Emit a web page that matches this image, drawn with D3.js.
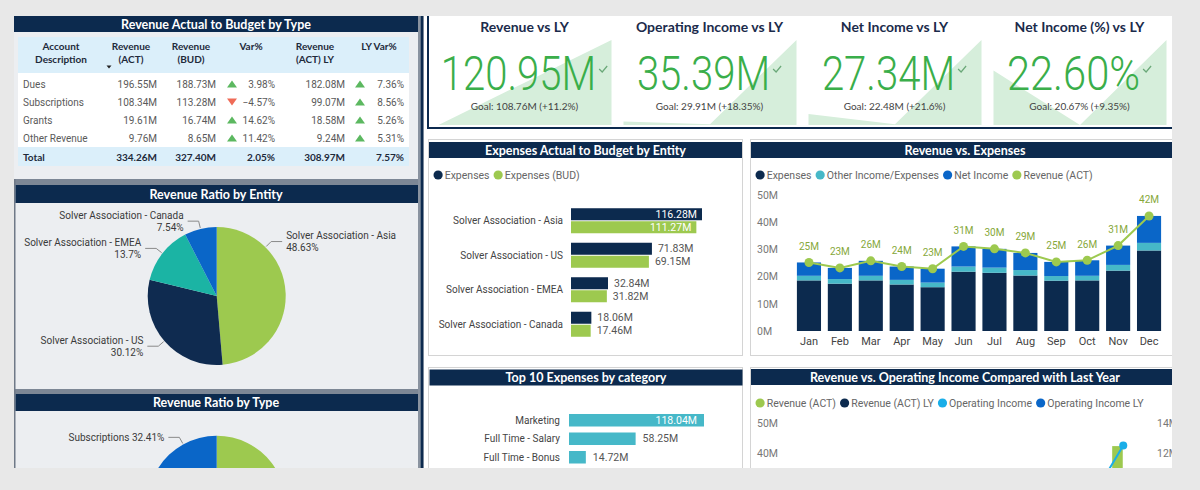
<!DOCTYPE html>
<html><head><meta charset="utf-8">
<script src="https://cdn.jsdelivr.net/npm/d3@7/dist/d3.min.js"></script>
<style>
html,body{margin:0;padding:0;background:#e8e8e8;}
svg{display:block;}
</style>
</head><body>
<svg id="c" width="1200" height="490"></svg>
<script>
// ================= DATA =================
const tableAccounts = ["Dues", "Subscriptions", "Grants", "Other Revenue"];
const tableRevAct = [196.55, 108.34, 19.61, 9.76];
const tableRevBud = [188.73, 113.28, 16.74, 8.65];
const tableVarPct = [3.98, -4.57, 14.62, 11.42];
const tableRevLY = [182.08, 99.07, 18.58, 9.24];
const tableLYVarPct = [7.36, 8.56, 5.26, 5.31];
const tableTotals = [334.26, 327.40, 2.05, 308.97, 7.57];

const entities = ["Solver Association - Asia", "Solver Association - US", "Solver Association - EMEA", "Solver Association - Canada"];
const entityShare = [48.63, 30.12, 13.7, 7.54];

const revTypes = ["Dues", "Grants", "Other Revenue", "Subscriptions"];
const revTypeShare = [58.80, 5.87, 2.92, 32.41];

const kpiTitles = ["Revenue vs LY", "Operating Income vs LY", "Net Income vs LY", "Net Income (%) vs LY"];
const kpiValues = [120.95, 35.39, 27.34, 22.60];
const kpiUnits = ["M", "M", "M", "%"];
const kpiGoals = [108.76, 29.91, 22.48, 20.67];
const kpiGoalDelta = [11.2, 18.35, 21.6, 9.35];
const trendRevenue = [0, 50, 100];
const trendOpIncome = [4, 1, 100];
const trendNetIncome = [13, 1, 100];
const trendNetIncomePct = [64, 0, 100];

const expActual = [116.28, 71.83, 32.84, 18.06];
const expBudget = [111.27, 69.15, 31.82, 17.46];

const months = ["Jan", "Feb", "Mar", "Apr", "May", "Jun", "Jul", "Aug", "Sep", "Oct", "Nov", "Dec"];
const monthExpenses = [18.6, 17.4, 18.6, 17.1, 16.1, 21.8, 21.4, 20.4, 18.5, 18.6, 22.2, 29.6];
const monthOther = [1.7, 1.7, 1.7, 1.7, 1.7, 1.9, 1.9, 2.0, 1.7, 1.7, 2.1, 2.8];
const monthNet = [4.9, 4.1, 5.5, 4.9, 5.1, 7.4, 6.9, 6.3, 5.2, 5.7, 7.1, 9.9];
const monthRevenue = [25.2, 23.2, 25.8, 23.7, 22.9, 31.1, 30.2, 28.7, 25.4, 26.0, 31.4, 42.3];
const monthOpIncome = [6.6, 5.8, 7.2, 6.6, 6.8, 9.3, 8.8, 8.3, 6.9, 7.4, 9.2, 12.5];

const topCategories = ["Marketing", "Full Time - Salary", "Full Time - Bonus"];
const topValues = [118.04, 58.25, 14.72];

const revExpTicks = [0, 10, 20, 30, 40, 50];
const revOpLeftTicks = [40, 50];
const revOpRightTicks = [12, 14];

// ================= STYLE =================
const NAVY = "#0c2a4e", GREEN = "#9dc94f", TEAL = "#1bb4a4", BLUE = "#0a66c8",
      LTEAL = "#46b8c8", SKY = "#1aaee8", KGREEN = "#3aae4a";
const FONT = "Roboto, 'Open Sans', sans-serif";
const TFONT = "Lato, 'Open Sans', sans-serif";
const VISIBLE_BOTTOM = 468;
const fM = v => d3.format(".2f")(v) + "M";
const fP = v => d3.format(".2f")(v) + "%";

const svg = d3.select("#c").attr("font-family", FONT);
const clip = svg.append("defs").append("clipPath").attr("id", "page");
clip.append("rect").attr("x", 0).attr("y", 0).attr("width", 1172).attr("height", VISIBLE_BOTTOM);
const root = svg.append("g");
const main = root.append("g").attr("clip-path", "url(#page)");

// page backgrounds
root.insert("rect", ":first-child").attr("width", 1200).attr("height", 490).attr("fill", "#e8e8e8");
main.append("rect").attr("x", 14).attr("y", 16).attr("width", 404).attr("height", 452).attr("fill", "#eceef1");
main.append("rect").attr("x", 424).attr("y", 16).attr("width", 748).attr("height", 452).attr("fill", "#ffffff");
main.append("rect").attr("x", 418).attr("y", 16).attr("width", 2.5).attr("height", 452).attr("fill", "#8a93a0");
main.append("rect").attr("x", 420.5).attr("y", 16).attr("width", 3).attr("height", 452).attr("fill", NAVY);

function titleBar(x, y, w, h, text, cx) {
  main.append("rect").attr("x", x).attr("y", y).attr("width", w).attr("height", h).attr("fill", NAVY);
  main.append("text").attr("x", cx === undefined ? x + w / 2 : cx).attr("y", y + h / 2).attr("dy", "0.36em")
    .attr("text-anchor", "middle").attr("fill", "#fff").attr("font-family", TFONT)
    .attr("font-weight", 700).attr("font-size", 12.5).text(text);
}

// ================= TABLE =================
titleBar(14, 16, 404, 16, "Revenue Actual to Budget by Type", 216);
main.append("rect").attr("x", 18).attr("y", 37).attr("width", 391).attr("height", 36).attr("fill", "#dbeffa");
main.append("rect").attr("x", 18).attr("y", 73).attr("width", 391).attr("height", 74).attr("fill", "#ffffff");
main.append("rect").attr("x", 18).attr("y", 147).attr("width", 391).attr("height", 19).attr("fill", "#dbeffa");

const headers = [
  {lines: ["Account", "Description"], x: 61},
  {lines: ["Revenue", "(ACT)"], x: 131},
  {lines: ["Revenue", "(BUD)"], x: 191},
  {lines: ["Var%"], x: 251},
  {lines: ["Revenue", "(ACT) LY"], x: 315},
  {lines: ["LY Var%"], x: 379}
];
const tg = main.append("g").attr("font-family", TFONT);
headers.forEach(h => {
  h.lines.forEach((l, i) => {
    tg.append("text").attr("x", h.x).attr("y", 46 + i * 13).attr("dy", "0.35em").attr("text-anchor", "middle")
      .attr("font-size", 10).attr("font-weight", 700).attr("fill", "#1e2a3a").text(l);
  });
});
tg.append("path").attr("d", "M106.5,65.5 L111.5,65.5 L109,68.5 Z").attr("fill", "#222");

const rowY = d3.scaleBand().domain(tableAccounts).range([75, 147]);
function tri(g, cx, cy, up) {
  const d = up ? `M${cx - 5},${cy + 3.5}L${cx + 5},${cy + 3.5}L${cx},${cy - 3.5}Z`
               : `M${cx - 5},${cy - 3.5}L${cx + 5},${cy - 3.5}L${cx},${cy + 3.5}Z`;
  g.append("path").attr("d", d).attr("fill", up ? "#5cb860" : "#ef6b57");
}
const cols = {act: 157, bud: 216, varTri: 232, varR: 275, ly: 345, lyTri: 360, lyVarR: 404};
tableAccounts.forEach((a, i) => {
  const y = rowY(a) + rowY.bandwidth() / 2;
  const g = main.append("g").attr("font-size", 10).attr("fill", "#5a5a5a");
  const t = (x, txt, anchor) => g.append("text").attr("x", x).attr("y", y).attr("dy", "0.35em")
    .attr("text-anchor", anchor || "end").text(txt);
  t(23, a, "start");
  t(cols.act, fM(tableRevAct[i]));
  t(cols.bud, fM(tableRevBud[i]));
  tri(g, cols.varTri, y, tableVarPct[i] >= 0);
  t(cols.varR, fP(tableVarPct[i]));
  t(cols.ly, fM(tableRevLY[i]));
  tri(g, cols.lyTri, y, tableLYVarPct[i] >= 0);
  t(cols.lyVarR, fP(tableLYVarPct[i]));
});
{
  const y = 157;
  const g = main.append("g").attr("font-size", 10).attr("font-weight", 700).attr("fill", "#1e2a3a").attr("font-family", TFONT);
  const t = (x, txt, anchor) => g.append("text").attr("x", x).attr("y", y).attr("dy", "0.35em")
    .attr("text-anchor", anchor || "end").text(txt);
  t(23, "Total", "start");
  t(cols.act, fM(tableTotals[0]));
  t(cols.bud, fM(tableTotals[1]));
  t(cols.varR, fP(tableTotals[2]));
  t(cols.ly, fM(tableTotals[3]));
  t(cols.lyVarR, fP(tableTotals[4]));
}

// ================= PIES =================
main.append("rect").attr("x", 14).attr("y", 179).attr("width", 404).attr("height", 6).attr("fill", "#7d8795");
main.append("rect").attr("x", 14).attr("y", 389).attr("width", 404).attr("height", 5).attr("fill", "#7d8795");
main.append("rect").attr("x", 14).attr("y", 179).attr("width", 1.5).attr("height", 290).attr("fill", "#6f7987");
titleBar(15.5, 185, 402.5, 18, "Revenue Ratio by Entity", 216);
titleBar(15.5, 394, 402.5, 17, "Revenue Ratio by Type", 216);

const PIE_R = 69;
function drawPie(cx, cy, names, shares, colors, labelFn, angleOverride) {
  const pie = d3.pie().sort(null).value(d => d.v);
  const arcs = pie(names.map((n, i) => ({n, v: shares[i]})));
  const arc = d3.arc().innerRadius(0).outerRadius(PIE_R);
  const g = main.append("g").attr("transform", `translate(${cx},${cy})`);
  g.selectAll("path").data(arcs).join("path").attr("d", arc).attr("fill", (d, i) => colors[i]);
  arcs.forEach(d => {
    let a = (d.startAngle + d.endAngle) / 2;
    if (angleOverride[d.data.n] !== undefined) a = angleOverride[d.data.n];
    const p0 = [Math.sin(a) * (PIE_R + 1), -Math.cos(a) * (PIE_R + 1)];
    const p1 = [Math.sin(a) * (PIE_R + 8), -Math.cos(a) * (PIE_R + 8)];
    const right = Math.sin(a) >= 0;
    const p2 = [p1[0] + (right ? 11 : -11), p1[1]];
    const lines = labelFn(d.data);
    // skip labels that fall below the visible page
    if (cy + p2[1] + lines.length * 6 > VISIBLE_BOTTOM - 2) return;
    g.append("path").attr("d", `M${p0}L${p1}L${p2}`).attr("fill", "none").attr("stroke", "#8a8a8a").attr("stroke-width", 1);
    const tx = p2[0] + (right ? 4 : -4);
    const t = g.append("text").attr("x", tx).attr("y", p2[1]).attr("text-anchor", right ? "start" : "end")
      .attr("font-size", 10).attr("fill", "#3a3a3a");
    lines.forEach((l, i) => {
      t.append("tspan").attr("x", tx).attr("y", p2[1] + (i - (lines.length - 1) / 2) * 11.8).attr("dy", "0.35em").text(l);
    });
  });
}
drawPie(216.7, 296, entities, entityShare, [GREEN, "#0f2b50", TEAL, BLUE],
  d => [d.n, d.v + "%"], {"Solver Association - Asia": Math.PI / 4});
drawPie(216.7, 504.7, revTypes, revTypeShare, [GREEN, TEAL, "#0f2b50", BLUE],
  d => [d.n + " " + d.v + "%"], {"Subscriptions": -29 * Math.PI / 180});

// ================= KPI CARDS =================
main.append("rect").attr("x", 427).attr("y", 16).attr("width", 2).attr("height", 113).attr("fill", NAVY);
main.append("rect").attr("x", 427).attr("y", 127).attr("width", 745).attr("height", 2).attr("fill", NAVY);
const kx = d3.scaleBand().domain(kpiTitles).range([432, 1172]);
const kTrends = [trendRevenue, trendOpIncome, trendNetIncome, trendNetIncomePct];
const ky = d3.scaleLinear().domain([0, 100]).range([125, 40]);
kpiTitles.forEach((title, i) => {
  const cx = kx(title) + kx.bandwidth() / 2;
  const tx = d3.scaleLinear().domain([0, kTrends[i].length - 1]).range([cx - 86, cx + 87]);
  const area = d3.area().x((d, j) => tx(j)).y0(ky(0)).y1(d => ky(d));
  main.append("path").attr("d", area(kTrends[i])).attr("fill", "#d6eedb");
  main.append("text").attr("x", cx).attr("y", 27).attr("dy", "0.35em").attr("text-anchor", "middle")
    .attr("font-family", TFONT).attr("font-weight", 700).attr("font-size", 14).attr("fill", "#1b2b4b").text(title);
  const str = d3.format(".2f")(kpiValues[i]) + kpiUnits[i];
  const w = str.length * 22.2;
  main.append("text").attr("x", cx - 6 - w / 2).attr("y", 89.5).attr("font-size", 49).attr("font-weight", 300)
    .attr("fill", KGREEN).attr("textLength", w).attr("lengthAdjust", "spacingAndGlyphs").text(str);
  const ckx = cx - 6 + w / 2 + 3;
  main.append("path").attr("d", `M${ckx},${69}L${ckx + 3},${72}L${ckx + 8},${66}`).attr("fill", "none")
    .attr("stroke", "#6aa878").attr("stroke-width", 1.2);
  const gstr = "Goal: " + (kpiUnits[i] === "%" ? fP(kpiGoals[i]) : fM(kpiGoals[i])) + " (+" + kpiGoalDelta[i] + "%)";
  main.append("text").attr("x", cx).attr("y", 106).attr("dy", "0.35em").attr("text-anchor", "middle")
    .attr("font-family", TFONT).attr("font-size", 10).attr("fill", "#444").text(gstr);
});

// ================= LEGEND HELPER =================
function legend(items, x0, y, r) {
  let x = x0;
  items.forEach(([label, color]) => {
    main.append("circle").attr("cx", x + r).attr("cy", y).attr("r", r).attr("fill", color);
    const t = main.append("text").attr("x", x + 2 * r + 2).attr("y", y).attr("dy", "0.35em")
      .attr("font-size", 10.5).attr("fill", "#666").text(label);
    x += 2 * r + 2 + t.node().getComputedTextLength() + 4;
  });
}

// ================= EXPENSES BY ENTITY =================
main.append("rect").attr("x", 428.5).attr("y", 139.5).attr("width", 314).attr("height", 216)
  .attr("fill", "#fff").attr("stroke", "#d4d4d4");
titleBar(429, 142, 313, 16, "Expenses Actual to Budget by Entity");
legend([["Expenses", NAVY], ["Expenses (BUD)", GREEN]], 433.5, 175, 4.6);
{
  const x = d3.scaleLinear().domain([0, 116.28]).range([571, 702]);
  const y = d3.scaleBand().domain(entities).range([203.5, 341.5]).paddingInner(0.275).paddingOuter(0.1375);
  const g = main.append("g");
  entities.forEach((e, i) => {
    const y0 = y(e);
    const bh = (y.bandwidth() - 1) / 2;
    [[expActual[i], NAVY, 0], [expBudget[i], GREEN, bh + 1]].forEach(([v, c, off]) => {
      g.append("rect").attr("x", x(0)).attr("y", y0 + off).attr("width", x(v) - x(0)).attr("height", bh).attr("fill", c);
      const inside = x(v) - x(0) > 100;
      g.append("text").attr("x", inside ? x(v) - 5 : x(v) + 6).attr("y", y0 + off + bh / 2).attr("dy", "0.35em")
        .attr("text-anchor", inside ? "end" : "start").attr("font-size", 10.5)
        .attr("fill", inside ? "#fff" : "#555").text(fM(v));
    });
    g.append("text").attr("x", 563).attr("y", y0 + y.bandwidth() / 2).attr("dy", "0.35em").attr("text-anchor", "end")
      .attr("font-size", 10).attr("fill", "#444").text(e);
  });
}

// ================= REVENUE VS EXPENSES =================
main.append("rect").attr("x", 750.5).attr("y", 139.5).attr("width", 440).attr("height", 216)
  .attr("fill", "#fff").attr("stroke", "#d4d4d4");
titleBar(751, 142, 421, 16, "Revenue vs. Expenses", 965);
legend([["Expenses", NAVY], ["Other Income/Expenses", LTEAL], ["Net Income", BLUE], ["Revenue (ACT)", GREEN]], 755.5, 175, 4.6);
{
  const x = d3.scaleBand().domain(months).range([793.5, 1164.5]).paddingInner(0.22).paddingOuter(0.11);
  const y = d3.scaleLinear().domain([0, 50]).range([331, 195]);
  const rows = months.map((m, i) => ({m, exp: monthExpenses[i], oth: monthOther[i], net: monthNet[i]}));
  const stack = d3.stack().keys(["exp", "oth", "net"])(rows);
  const colors = [NAVY, LTEAL, BLUE];
  const g = main.append("g");
  stack.forEach((s, k) => {
    g.append("g").attr("fill", colors[k]).selectAll("rect").data(s).join("rect")
      .attr("x", d => x(d.data.m)).attr("width", x.bandwidth())
      .attr("y", d => y(d[1])).attr("height", d => y(d[0]) - y(d[1]));
  });
  const ya = main.append("g").attr("transform", "translate(757,0)")
    .call(d3.axisLeft(y).tickValues(revExpTicks).tickSize(0).tickFormat(d => d + "M"));
  ya.select(".domain").remove();
  ya.selectAll("text").attr("x", 0).attr("text-anchor", "start").attr("font-size", 10.5).attr("fill", "#777").attr("font-family", FONT);
  const xa = main.append("g").attr("transform", "translate(0,331)").call(d3.axisBottom(x).tickSize(0).tickPadding(6));
  xa.select(".domain").remove();
  xa.selectAll("text").attr("font-size", 11).attr("fill", "#444").attr("font-family", FONT);
  const line = d3.line().x((d, i) => x(months[i]) + x.bandwidth() / 2).y(d => y(d));
  g.append("path").attr("d", line(monthRevenue)).attr("fill", "none").attr("stroke", GREEN).attr("stroke-width", 2);
  monthRevenue.forEach((v, i) => {
    const cx = x(months[i]) + x.bandwidth() / 2;
    g.append("circle").attr("cx", cx).attr("cy", y(v)).attr("r", 4.5).attr("fill", GREEN);
    g.append("text").attr("x", cx).attr("y", y(v) - 16).attr("dy", "0.35em").attr("text-anchor", "middle")
      .attr("font-size", 10).attr("fill", "#86a83a").text(d3.format(".0f")(v) + "M");
  });
}

// ================= TOP 10 EXPENSES =================
main.append("rect").attr("x", 428.5).attr("y", 367.5).attr("width", 314).attr("height", 120)
  .attr("fill", "#fff").attr("stroke", "#d4d4d4");
titleBar(429.5, 369.5, 313, 16, "Top 10 Expenses by category");
{
  const x = d3.scaleLinear().domain([0, 118.04]).range([569, 704]);
  const y = d3.scaleBand().domain(topCategories).range([411, 466.5]).paddingInner(0.324).paddingOuter(0.162);
  topCategories.forEach((c, i) => {
    const v = topValues[i];
    main.append("rect").attr("x", x(0)).attr("y", y(c)).attr("width", x(v) - x(0)).attr("height", y.bandwidth()).attr("fill", LTEAL);
    const inside = x(v) - x(0) > 100;
    main.append("text").attr("x", inside ? x(v) - 7 : x(v) + 7).attr("y", y(c) + y.bandwidth() / 2).attr("dy", "0.35em")
      .attr("text-anchor", inside ? "end" : "start").attr("font-size", 10.5)
      .attr("fill", inside ? "#fff" : "#555").text(fM(v));
    main.append("text").attr("x", 560).attr("y", y(c) + y.bandwidth() / 2).attr("dy", "0.35em").attr("text-anchor", "end")
      .attr("font-size", 10).attr("fill", "#444").text(c);
  });
}

// ================= REVENUE VS OPERATING INCOME =================
main.append("rect").attr("x", 750.5).attr("y", 367.5).attr("width", 440).attr("height", 120)
  .attr("fill", "#fff").attr("stroke", "#d4d4d4");
titleBar(751, 369, 421, 16, "Revenue vs. Operating Income Compared with Last Year", 965);
legend([["Revenue (ACT)", GREEN], ["Revenue (ACT) LY", NAVY], ["Operating Income", SKY], ["Operating Income LY", BLUE]], 755.5, 403, 4.6);
{
  const x = d3.scaleBand().domain(months).range([784, 1138]).paddingInner(0.25).paddingOuter(0.125);
  const yL = d3.scaleLinear().domain([0, 50]).range([573, 423]);
  const yR = d3.scaleLinear().domain([0, 14]).range([633, 423]);
  const bw = x.bandwidth() / 2 - 0.5;
  monthRevenue.forEach((v, i) => {
    main.append("rect").attr("x", x(months[i])).attr("y", yL(v)).attr("width", bw).attr("height", yL(0) - yL(v)).attr("fill", GREEN);
  });
  const line = d3.line().x((d, i) => x(months[i]) + x.bandwidth() / 2).y(d => yR(d));
  main.append("path").attr("d", line(monthOpIncome)).attr("fill", "none").attr("stroke", SKY).attr("stroke-width", 2);
  monthOpIncome.forEach((v, i) => {
    main.append("circle").attr("cx", x(months[i]) + x.bandwidth() / 2).attr("cy", yR(v)).attr("r", 4).attr("fill", SKY);
  });
  const al = main.append("g").attr("transform", "translate(757,0)")
    .call(d3.axisLeft(yL).tickValues(revOpLeftTicks).tickSize(0).tickFormat(d => d + "M"));
  al.select(".domain").remove();
  al.selectAll("text").attr("x", 0).attr("text-anchor", "start").attr("font-size", 10.5).attr("fill", "#777").attr("font-family", FONT);
  const ar = main.append("g").attr("transform", "translate(1157,0)")
    .call(d3.axisRight(yR).tickValues(revOpRightTicks).tickSize(0).tickFormat(d => d + "M"));
  ar.select(".domain").remove();
  ar.selectAll("text").attr("x", 0).attr("text-anchor", "start").attr("font-size", 10.5).attr("fill", "#777").attr("font-family", FONT);
}
</script>
</body></html>
